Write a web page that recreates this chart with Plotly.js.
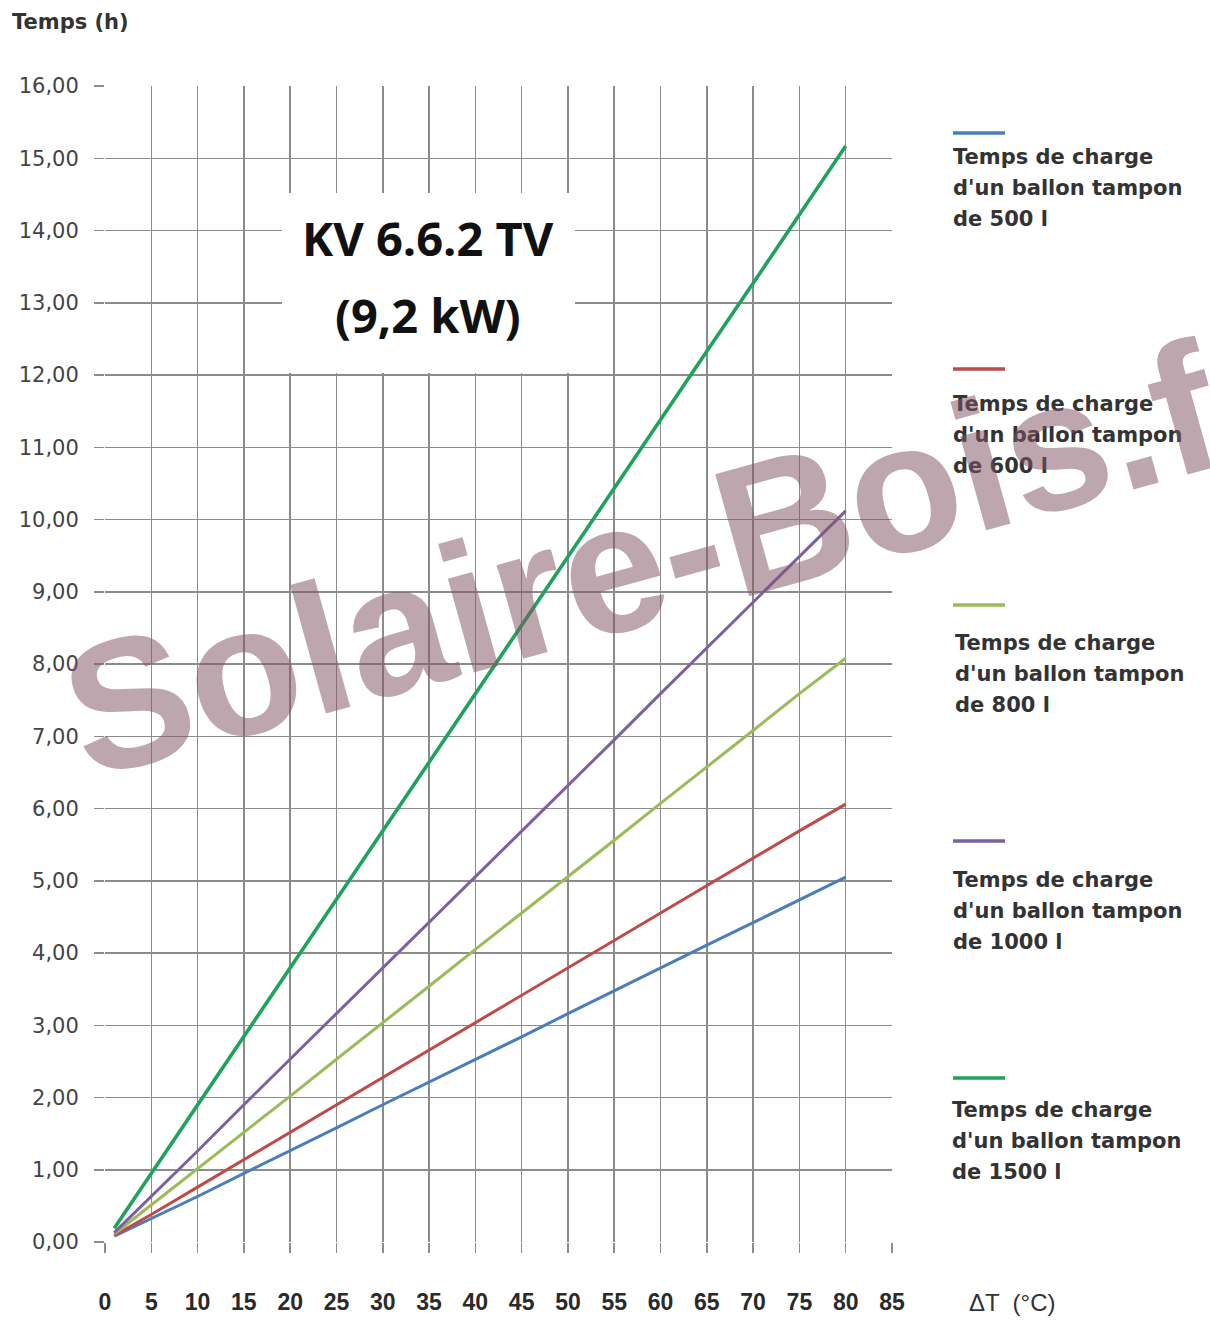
<!DOCTYPE html>
<html>
<head>
<meta charset="utf-8">
<script src="https://cdn.plot.ly/plotly-3.0.1.min.js"></script>
<style>html,body{margin:0;padding:0;background:#fff;}#chart{width:1210px;height:1331px;}</style>
</head>
<body>
<div id="chart"></div>
<script>
// ---- data ----
const deltaT = [1, 5, 10, 15, 20, 25, 30, 35, 40, 45, 50, 55, 60, 65, 70, 75, 80];
const t500  = [0.08, 0.32, 0.63, 0.95, 1.26, 1.58, 1.90, 2.21, 2.53, 2.84, 3.16, 3.48, 3.79, 4.11, 4.42, 4.74, 5.05];
const t600  = [0.09, 0.38, 0.76, 1.14, 1.52, 1.90, 2.28, 2.65, 3.03, 3.41, 3.79, 4.17, 4.55, 4.93, 5.31, 5.69, 6.06];
const t800  = [0.11, 0.51, 1.01, 1.52, 2.02, 2.53, 3.03, 3.54, 4.05, 4.55, 5.06, 5.56, 6.07, 6.57, 7.08, 7.59, 8.08];
const t1000 = [0.13, 0.63, 1.26, 1.90, 2.53, 3.16, 3.79, 4.42, 5.06, 5.69, 6.32, 6.95, 7.59, 8.22, 8.85, 9.48, 10.12];
const t1500 = [0.19, 0.95, 1.90, 2.84, 3.79, 4.74, 5.69, 6.64, 7.59, 8.53, 9.48, 10.43, 11.38, 12.33, 13.27, 14.22, 15.17];
const seriesLabels = [
  ["Temps de charge", "d'un ballon tampon", "de 500 l"],
  ["Temps de charge", "d'un ballon tampon", "de 600 l"],
  ["Temps de charge", "d'un ballon tampon", "de 800 l"],
  ["Temps de charge", "d'un ballon tampon", "de 1000 l"],
  ["Temps de charge", "d'un ballon tampon", "de 1500 l"]
];
const xTickVals = [0, 5, 10, 15, 20, 25, 30, 35, 40, 45, 50, 55, 60, 65, 70, 75, 80, 85];
const chartTitle = ["KV 6.6.2 TV", "(9,2 kW)"];
const yAxisTitle = "Temps (h)";
const xAxisTitle = "\u0394T  (\u00b0C)";
const watermark = "Solaire-Bois.fr";

// ---- styling ----
const seriesValues = [t500, t600, t800, t1000, t1500];
const colors = ['#4a7ebb', '#be4b48', '#9bbb59', '#7d60a0', '#1fa35a'];
const widths = [3, 3, 3, 3, 3.6];

const W = 1210, H = 1331;
const M = {l: 105, r: 318, t: 86, b: 89};
const pw = W - M.l - M.r, ph = H - M.t - M.b;
const px = x => (x - M.l) / pw;          // pixel -> paper x
const py = y => (H - M.b - y) / ph;      // pixel -> paper y

const traces = seriesValues.map((vals, i) => ({
  x: deltaT, y: vals, type: 'scatter', mode: 'lines',
  line: {color: colors[i], width: widths[i]},
  name: seriesLabels[i].join(' '), showlegend: false, hoverinfo: 'skip'
}));

const annotations = [];
const shapes = [];

// white box behind the title
annotations.push({xref: 'paper', yref: 'paper', x: px(428.5), y: py(283),
  xanchor: 'center', yanchor: 'middle', text: '\u00a0', showarrow: false,
  width: 293, height: 180, bgcolor: '#ffffff', borderpad: 0, borderwidth: 0,
  font: {size: 10}});
annotations.push({xref: 'paper', yref: 'paper', x: px(428), y: py(238), text: chartTitle[0],
  showarrow: false, xanchor: 'center', yanchor: 'middle',
  font: {family: 'Open Sans', size: 47, weight: 700, color: '#111'}});
annotations.push({xref: 'paper', yref: 'paper', x: px(428), y: py(315), text: chartTitle[1],
  showarrow: false, xanchor: 'center', yanchor: 'middle',
  font: {family: 'Open Sans', size: 47, weight: 700, color: '#111'}});

// custom legend (line above a three-line label)
const legLineY = [133, 369, 605, 841, 1078];
const legTextY = [157, 404, 643, 880, 1110];
const legTextX = [951, 951, 953, 951, 950];
seriesLabels.forEach((lines, i) => {
  shapes.push({type: 'line', xref: 'paper', yref: 'paper',
    x0: px(953), x1: px(1005), y0: py(legLineY[i]), y1: py(legLineY[i]),
    line: {color: colors[i], width: 3.5}});
  lines.forEach((t, j) => {
    annotations.push({xref: 'paper', yref: 'paper', x: px(legTextX[i]), y: py(legTextY[i] + j * 31),
      text: t, showarrow: false, xanchor: 'left', yanchor: 'middle',
      font: {family: 'DejaVu Sans', size: 21, weight: 700, color: '#333'}});
  });
});

// axis titles
annotations.push({xref: 'paper', yref: 'paper', x: px(10), y: py(22), text: yAxisTitle,
  showarrow: false, xanchor: 'left', yanchor: 'middle',
  font: {family: 'DejaVu Sans', size: 21, weight: 700, color: '#333'}});
annotations.push({xref: 'paper', yref: 'paper', x: px(1012), y: py(1302), text: xAxisTitle,
  showarrow: false, xanchor: 'center', yanchor: 'middle',
  font: {family: 'Liberation Sans', size: 24, color: '#333'}});

// watermark
annotations.push({xref: 'paper', yref: 'paper', x: px(676), y: py(550), text: watermark,
  showarrow: false, xanchor: 'center', yanchor: 'middle', textangle: -15.5,
  font: {family: 'Liberation Sans', size: 184, weight: 700, color: 'rgba(130,85,100,0.52)'}});

const layout = {
  width: W, height: H,
  margin: M,
  paper_bgcolor: '#ffffff', plot_bgcolor: '#ffffff',
  separators: ',.',
  showlegend: false,
  xaxis: {
    range: [0, 85], tickmode: 'array', tickvals: xTickVals,
    showgrid: true, gridcolor: '#8c8c8c', gridwidth: 1.5,
    zeroline: false, showline: false,
    ticks: 'outside', ticklen: 10, tickcolor: '#8c8c8c', tickwidth: 1.5,
    ticklabelstandoff: 29,
    tickfont: {family: 'Liberation Sans', size: 23, weight: 700, color: '#2a2a2a'}
  },
  yaxis: {
    range: [0, 16], dtick: 1, tick0: 0, tickformat: '.2f',
    showgrid: true, gridcolor: '#8c8c8c', gridwidth: 1.5,
    zeroline: false, showline: false,
    ticks: 'outside', ticklen: 10, tickcolor: '#8c8c8c', tickwidth: 1.5,
    ticklabelstandoff: 11,
    tickfont: {family: 'DejaVu Sans', size: 21, color: '#444'}
  },
  shapes: shapes,
  annotations: annotations
};

Plotly.newPlot('chart', traces, layout, {staticPlot: true, displayModeBar: false});
</script>
</body>
</html>
